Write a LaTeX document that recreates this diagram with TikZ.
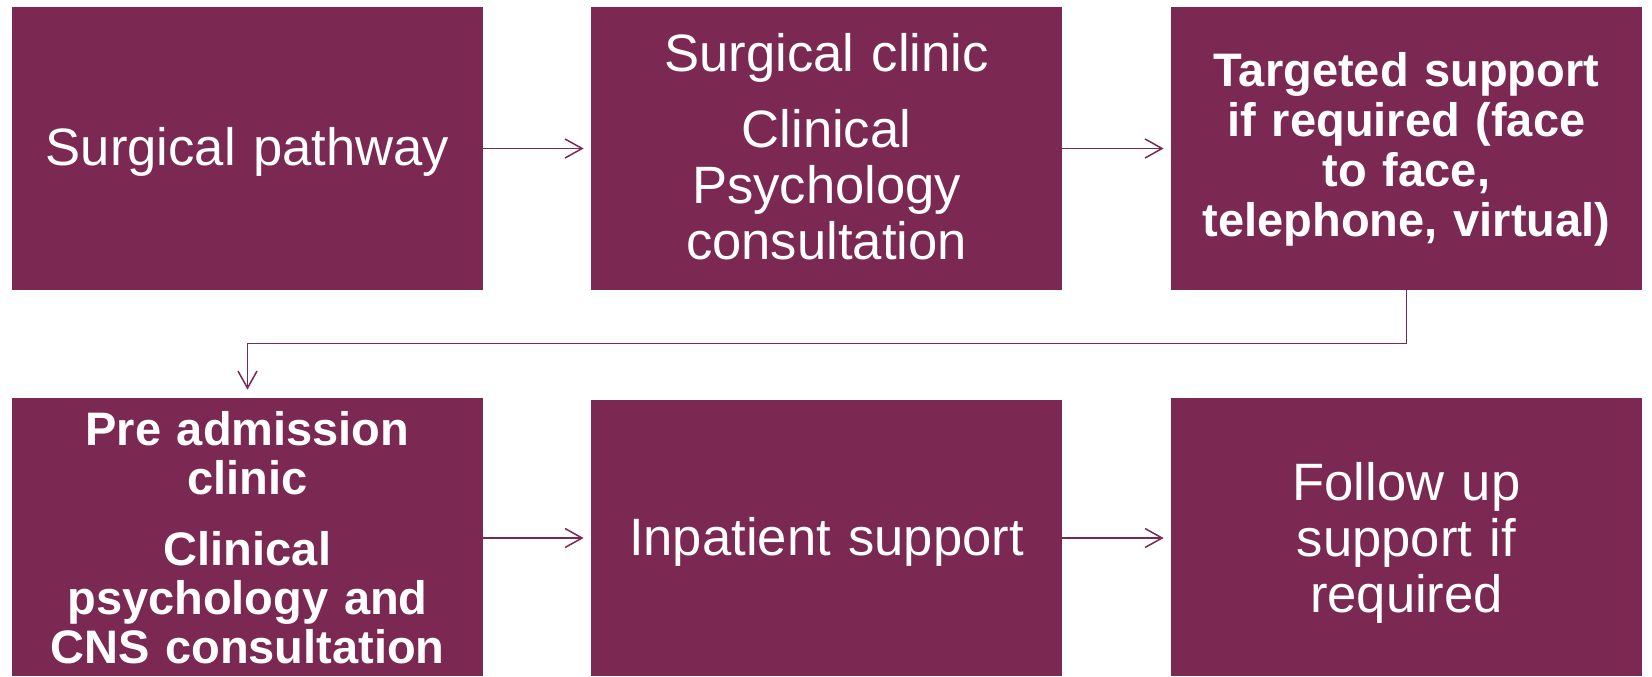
\documentclass[tikz,border=0pt]{standalone}
\usepackage{fontspec}
\setmainfont{Liberation Sans}
\usetikzlibrary{arrows.meta}
\definecolor{plum}{HTML}{7B2952}
\begin{document}
\begin{tikzpicture}[x=0.5pt,y=-0.5pt,
  stagebox/.style={fill=plum, draw=none, inner sep=0pt,
    minimum width=235.5pt, minimum height=141.5pt},
  lowbox/.style={stagebox, minimum height=139pt},
  txt/.style={text=white, inner sep=0pt, anchor=base, text width=235pt, align=center},
  reg/.style={txt, font=\fontsize{26.3pt}{27.9pt}\selectfont},
  bld/.style={txt, font=\fontsize{23.5pt}{24.9pt}\selectfont\bfseries},
  link/.style={draw=plum, line width=0.75pt, shorten >=3.5pt,
    -{Straight Barb[length=8.5pt,width=9.5pt,line width=0.75pt]}}
]
\useasboundingbox (0,0) rectangle (1652,676);

% stage boxes, first row
\node[stagebox] (b1) at (247.5,148.5) {};
\node[stagebox] (b2) at (826.5,148.5) {};
\node[stagebox] (b3) at (1406.5,148.5) {};
% stage boxes, second row
\node[lowbox] (b4) at (247.5,537) {};
\node[lowbox, minimum height=138pt] (b5) at (826.5,538) {};
\node[lowbox] (b6) at (1406.5,537) {};

% box texts
\node[reg] (t1) at (247.5,165) {Surgical pathway};
\node[reg] (t2) at (826.5,71) {Surgical clinic\\[10.5pt]Clinical\\Psychology\\consultation};
\node[bld] (t3) at (1406.5,86.7) {Targeted support\\if required (face\\to face,\\telephone, virtual)};
\node[bld, font=\fontsize{23.5pt}{24.5pt}\selectfont\bfseries] (t4) at (247.5,445)
  {Pre admission\\clinic\\[11pt]Clinical\\psychology and\\CNS consultation};
\node[reg] (t5) at (826.5,555) {Inpatient support};
\node[reg, font=\fontsize{26.3pt}{28pt}\selectfont] (t6) at (1406.5,500) {Follow up\\support if\\required};

% connectors
\draw[link] (b1.east) -- (b2.west);
\draw[link] (b2.east) -- (b3.west);
\draw[link, shorten >=4pt] (b3.south) -- ++(0,53) -| (b4.north);
\draw[link] (b4.east |- b5.west) -- (b5.west);
\draw[link] (b5.east) -- (b6.west |- b5.east);
\end{tikzpicture}
\end{document}
